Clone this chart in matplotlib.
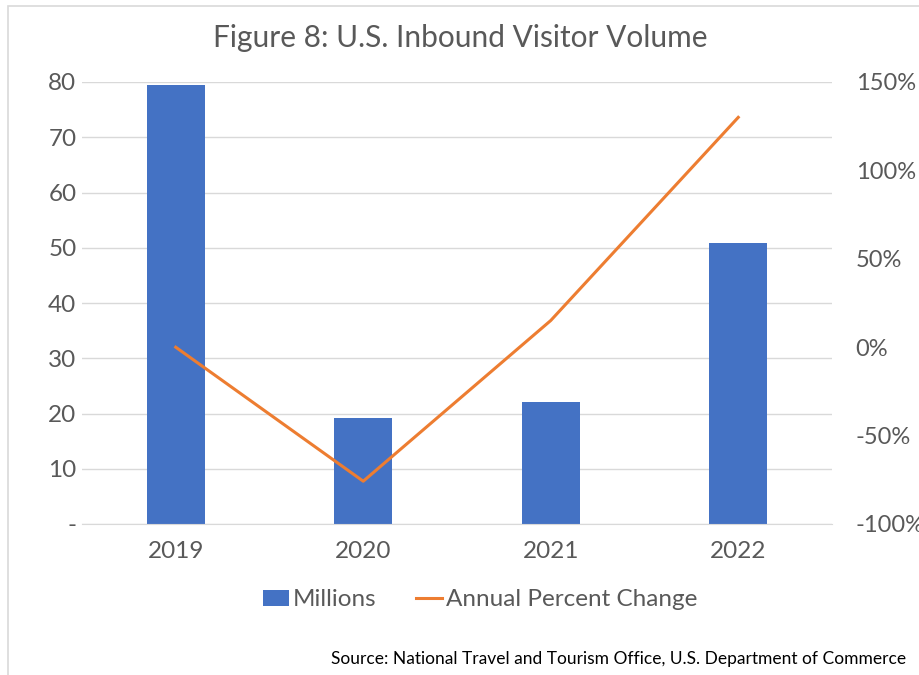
import matplotlib
matplotlib.use("Agg")
import matplotlib.pyplot as plt
from matplotlib.patches import Rectangle
from matplotlib.ticker import FuncFormatter

years = ["2019", "2020", "2021", "2022"]
millions = [79.4, 19.2, 22.1, 50.9]
pct_change = [0.0, -75.8, 15.1, 130.0]
left_ticks = [0, 10, 20, 30, 40, 50, 60, 70, 80]
right_ticks = [-100, -50, 0, 50, 100, 150]

FONT = ["Lato", "DejaVu Sans"]
plt.rcParams['font.family'] = FONT
TXT = "#595959"
GRID = "#d9d9d9"
BLUE = "#4472c4"
ORANGE = "#ed7d31"

fig = plt.figure(figsize=(9.2, 6.75), dpi=100)
ax = fig.add_axes([82/920, 1-524/675, 750/920, 442/675])
ax2 = ax.twinx()

x = list(range(len(years)))
bars = ax.bar(x, millions, width=0.31, color=BLUE, label="Millions", zorder=2)
line, = ax2.plot(x, pct_change, color=ORANGE, lw=2.2, label="Annual Percent Change")

ax.set_xlim(-0.5, 3.5)
ax.set_ylim(0, 80)
ax2.set_ylim(-100, 150)
ax.set_yticks(left_ticks)
ax.yaxis.set_major_formatter(FuncFormatter(lambda v, p: "-" if v == 0 else f"{v:.0f}"))
ax2.set_yticks(right_ticks)
ax2.yaxis.set_major_formatter(FuncFormatter(lambda v, p: f"{v:.0f}%"))
ax.set_xticks(x)
ax.set_xticklabels(years)

ax.grid(axis='y', color=GRID, lw=1, zorder=0)
ax.set_axisbelow(True)
for a in (ax, ax2):
    for s in a.spines.values():
        s.set_visible(False)
ax.spines['bottom'].set_visible(True)
ax.spines['bottom'].set_color(GRID)
ax.tick_params(axis='both', length=0, labelsize=17.5, colors=TXT)
ax.tick_params(axis='y', pad=4)
ax.tick_params(axis='x', pad=12)
ax2.tick_params(axis='y', length=0, labelsize=17, colors=TXT, pad=17)

fig.text(0.5, 1-38/675, "Figure 8: U.S. Inbound Visitor Volume", ha='center', va='center',
         fontsize=21.5, color=TXT)

leg = fig.legend(handles=[bars, line], labels=["Millions", "Annual Percent Change"],
                 loc='center', bbox_to_anchor=(480/920, 1-600/675), ncol=2, frameon=False,
                 fontsize=17.5, labelcolor=TXT, handlelength=1.1, handleheight=0.6,
                 handletextpad=0.15, columnspacing=1.6)

fig.text(906/920, 1-659/675,
         "Source: National Travel and Tourism Office, U.S. Department of Commerce",
         ha='right', va='center', fontsize=12.5, color='black')

fig.patches.append(Rectangle((8/920, -0.1), 1.2, 1.1 - 6/675, transform=fig.transFigure,
                             fill=False, edgecolor=GRID, lw=1.2))

fig.savefig("out.png", dpi=100)
